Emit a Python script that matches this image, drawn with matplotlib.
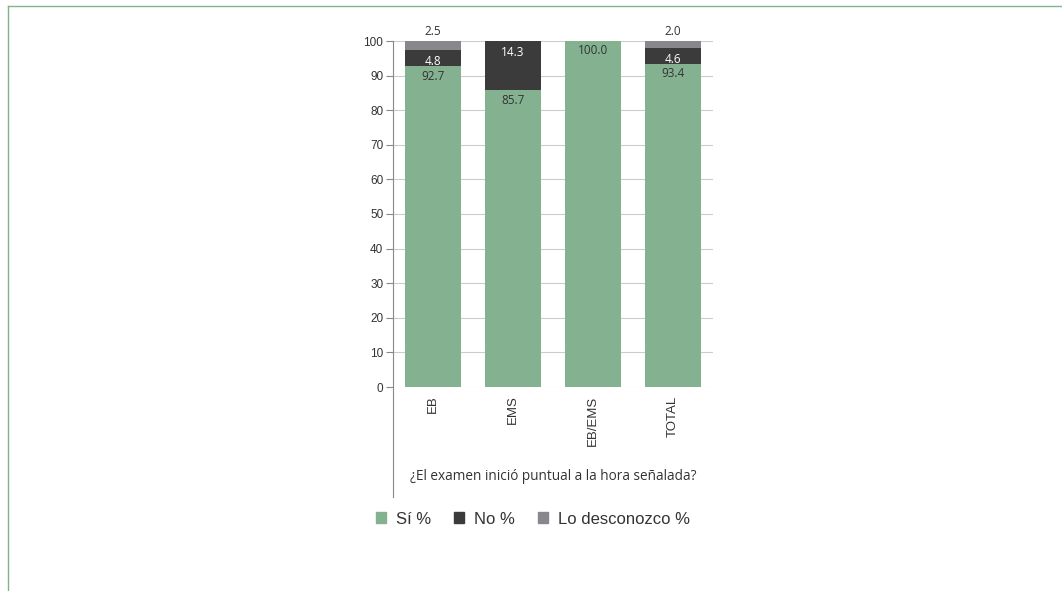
import matplotlib.pyplot as plt
from matplotlib.lines import Line2D
from matplotlib.patches import Patch
import numpy as np

# --- Data ---
categories = ['EB', 'EMS', 'EB/EMS', 'TOTAL']
si = [92.7, 85.7, 100.0, 93.4]
no = [4.8, 14.3, 0.0, 4.6]
desconozco = [2.5, 0.0, 0.0, 2.0]
series_names = ['Sí %', 'No %', 'Lo desconozco %']
title = '¿El examen inició puntual a la hora señalada?'

# --- Style ---
C_SI = '#84b291'
C_NO = '#3b3b3b'
C_LD = '#88888c'
C_TEXT = '#333333'
C_FRAME = '#7fb38b'
LABEL_FONT = ['Open Sans', 'DejaVu Sans']
AXIS_FONT = ['Liberation Sans', 'DejaVu Sans']

W, H = 1062, 591
fig = plt.figure(figsize=(W / 100, H / 100), dpi=100)

# axes placed in pixel coordinates
x0, x1, y0, y1 = 393, 713, 387, 41
ax = fig.add_axes([x0 / W, 1 - y0 / H, (x1 - x0) / W, (y0 - y1) / H])

x = np.arange(len(categories))
width = 0.71
si_a = np.array(si)
no_a = np.array(no)
ld_a = np.array(desconozco)

ax.bar(x, si_a, width, color=C_SI, zorder=3)
ax.bar(x, no_a, width, bottom=si_a, color=C_NO, zorder=3)
ax.bar(x, ld_a, width, bottom=si_a + no_a, color=C_LD, zorder=3)

# value labels
for i in range(len(categories)):
    top_si = si_a[i]
    ax.annotate(f'{si[i]:.1f}', (x[i], top_si), xytext=(0, -2.5), textcoords='offset points',
                ha='center', va='top', fontsize=8.5, color=C_TEXT, family=LABEL_FONT, zorder=5)
    if no[i] > 0:
        top_no = si_a[i] + no_a[i]
        ax.annotate(f'{no[i]:.1f}', (x[i], top_no), xytext=(0, -3.5), textcoords='offset points',
                    ha='center', va='top', fontsize=8.5, color='white', family=LABEL_FONT, zorder=5)
    if desconozco[i] > 0:
        top_ld = si_a[i] + no_a[i] + ld_a[i]
        ax.annotate(f'{desconozco[i]:.1f}', (x[i], top_ld), xytext=(0, 2), textcoords='offset points',
                    ha='center', va='bottom', fontsize=8.5, color=C_TEXT, family=LABEL_FONT, zorder=5)

ax.set_xlim(-0.5, len(categories) - 0.5)
ax.set_ylim(0, 100)
ax.set_yticks(np.arange(0, 101, 10))
ax.set_xticks(x)
ax.set_xticklabels(categories, rotation=90, fontsize=9.5, family=AXIS_FONT, color=C_TEXT)
for lab in ax.get_yticklabels():
    lab.set_family(AXIS_FONT)
ax.tick_params(axis='y', length=5, width=0.8, color='#888888', labelsize=8.5, labelcolor=C_TEXT, pad=2)
ax.tick_params(axis='x', length=0, pad=6)
ax.grid(axis='y', color='#cccccc', linewidth=0.8, zorder=0)
for s in ['top', 'right', 'bottom']:
    ax.spines[s].set_visible(False)
ax.spines['left'].set_color('#888888')
ax.spines['left'].set_linewidth(0.8)

# extended left axis line below the plot
fig.add_artist(Line2D([x0 / W, x0 / W], [1 - 497 / H, 1 - y0 / H], color='#888888', lw=0.8))

# category title
fig.text((x0 + x1) / 2 / W, 1 - 476 / H, title, ha='center', va='center',
         fontsize=9.8, color=C_TEXT, family=LABEL_FONT)

# legend
handles = [Patch(color=c) for c in [C_SI, C_NO, C_LD]]
fig.legend(handles, series_names, loc='center', bbox_to_anchor=(533 / W, 1 - 519 / H), ncol=3,
           frameon=False, prop={'family': AXIS_FONT, 'size': 12}, handlelength=0.6, handleheight=0.6,
           handletextpad=0.6, columnspacing=1.4, labelcolor=C_TEXT)

# green frame lines
fig.add_artist(Line2D([8 / W, 1], [1 - 6 / H, 1 - 6 / H], color=C_FRAME, lw=1))
fig.add_artist(Line2D([8 / W, 8 / W], [0, 1 - 6 / H], color=C_FRAME, lw=1))

fig.savefig('out.png', dpi=100)
